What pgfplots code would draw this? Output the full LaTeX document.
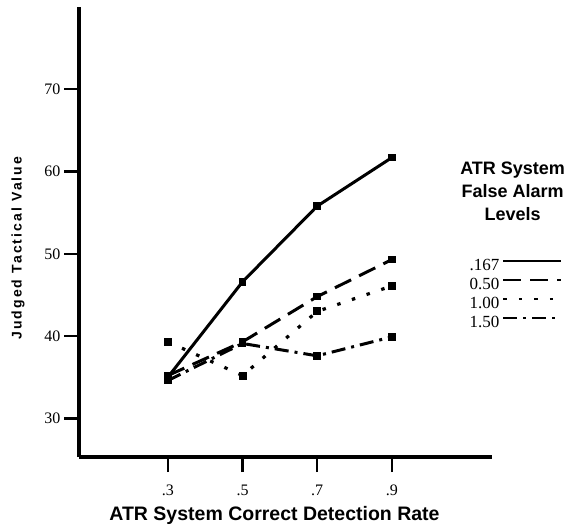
\documentclass[border=0pt]{standalone}
\usepackage{fontspec}
\setmainfont{Liberation Serif}
\newfontfamily\hv{Liberation Sans}
\newfontfamily\hvwide[LetterSpace=15]{Liberation Sans}
\usepackage{pgfplots}
\pgfplotsset{compat=1.18}

\begin{document}
\begin{tikzpicture}
\begin{axis}[
    scale only axis,
    width=413pt, height=450pt,
    xmin=0.062, xmax=1.168,
    ymin=25.3, ymax=80,
    axis x line*=bottom,
    axis y line*=left,
    axis line style={line width=3.2pt},
    every outer x axis line/.append style={line width=3.2pt},
    every outer y axis line/.append style={line width=3.2pt},
    xtick={0.3,0.5,0.7,0.9},
    xticklabels={.3,.5,.7,.9},
    ytick={30,40,50,60,70},
    yticklabels={30,40,50,60,70},
    tick align=outside,
    major tick length=15pt,
    tick style={line width=2.4pt, black},
    ticklabel style={font=\fontsize{16}{16}\selectfont},
    xticklabel style={inner sep=0pt, yshift=-13pt},
    xlabel={ATR System Correct Detection Rate},
    ylabel={Judged Tactical Value},
    xlabel style={at={(axis description cs:0.4734,-0.131)}, anchor=center,
      inner sep=0pt, font=\hv\bfseries\fontsize{19.5}{19.5}\selectfont},
    ylabel style={at={(axis description cs:-0.1477,0.464)}, anchor=center,
      font=\hvwide\bfseries\fontsize{14}{14}\selectfont},
    legend style={at={(axis description cs:1.058,0.363)}, anchor=center,
      draw=none, fill=none, font=\fontsize{17}{17}\selectfont,
      row sep=8pt, nodes={inner sep=0pt, text height=11pt, text depth=0pt},
      column sep=3pt},
    legend cell align=right,
    legend plot pos=right,
    legend image code/.code={\draw[#1, line width=2pt] (0pt,4pt) -- (58pt,4pt);},
    clip=false,
  ]
% .167
\addplot[black, line width=3pt, mark=square*, mark size=2.4pt]
  coordinates {(0.3,35.0) (0.5,46.6) (0.7,55.8) (0.9,61.7)};
% 0.50
\addplot[black, line width=3pt, dash pattern=on 18pt off 9pt,
  mark=square*, mark size=2.4pt, mark options={solid}]
  coordinates {(0.3,35.2) (0.5,39.3) (0.7,44.8) (0.9,49.3)};
% 1.00
\addplot[black, line width=3.2pt, dash pattern=on 3.5pt off 12pt,
  mark=square*, mark size=2.4pt, mark options={solid}]
  coordinates {(0.3,39.3) (0.5,35.2) (0.7,43.0) (0.9,46.1)};
% 1.50
\addplot[black, line width=3pt, dash pattern=on 14pt off 6pt on 3pt off 6pt,
  mark=square*, mark size=2.4pt, mark options={solid}]
  coordinates {(0.3,34.6) (0.5,39.1) (0.7,37.6) (0.9,39.9)};
\legend{.167,0.50,1.00,1.50}
\node[align=center, font=\hv\bfseries\fontsize{18}{23}\selectfont]
  at (axis description cs:1.05,0.591) {ATR System\\False Alarm\\Levels};
\end{axis}
\pgfresetboundingbox
\path[use as bounding box] (-79pt,-67pt) rectangle (490pt,457pt);
\end{tikzpicture}
\end{document}
